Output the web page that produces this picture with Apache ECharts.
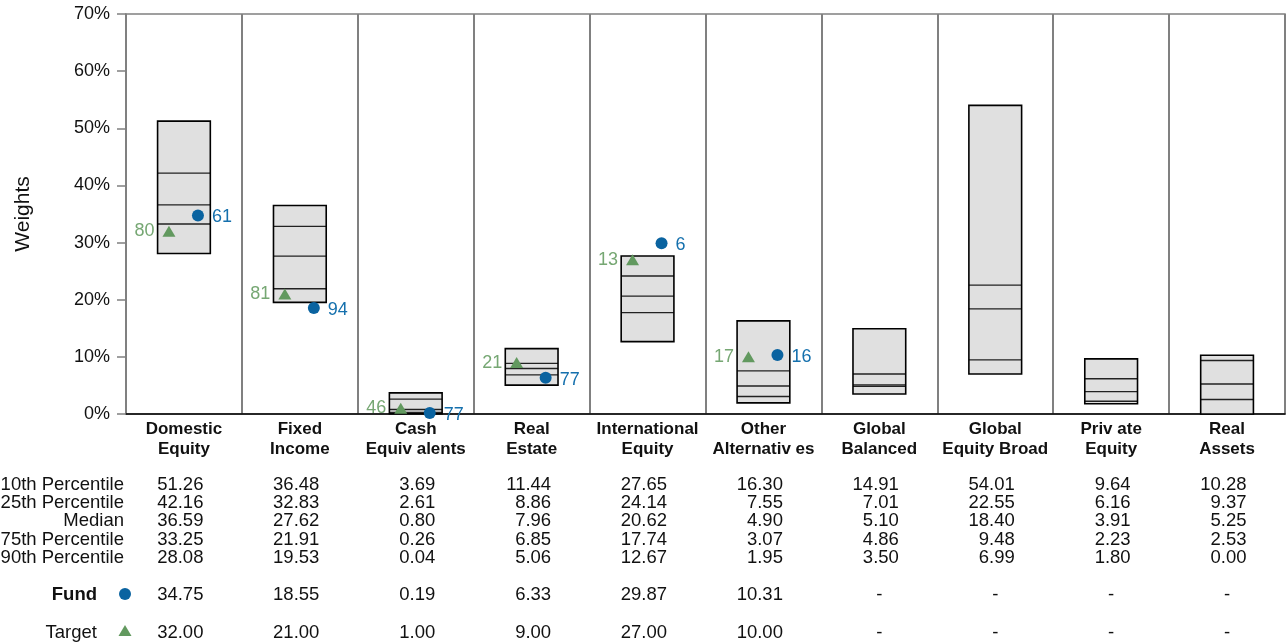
<!DOCTYPE html>
<html>
<head>
<meta charset="utf-8">
<script src="https://cdn.jsdelivr.net/npm/echarts@6/dist/echarts.min.js"></script>
<style>
  html, body { margin: 0; padding: 0; background: #fff; }
  #chart { width: 1286px; height: 644px; }
</style>
</head>
<body>
<div id="chart"></div>
<script>
// Asset class categories (two-line axis labels)
const categories = [
  'Domestic\nEquity', 'Fixed\nIncome', 'Cash\nEquiv alents', 'Real\nEstate',
  'International\nEquity', 'Other\nAlternativ es', 'Global\nBalanced',
  'Global\nEquity Broad', 'Priv ate\nEquity', 'Real\nAssets'
];

// Universe percentile weights (%)
const p10    = [51.26, 36.48, 3.69, 11.44, 27.65, 16.30, 14.91, 54.01, 9.64, 10.28];
const p25    = [42.16, 32.83, 2.61,  8.86, 24.14,  7.55,  7.01, 22.55, 6.16,  9.37];
const median = [36.59, 27.62, 0.80,  7.96, 20.62,  4.90,  5.10, 18.40, 3.91,  5.25];
const p75    = [33.25, 21.91, 0.26,  6.85, 17.74,  3.07,  4.86,  9.48, 2.23,  2.53];
const p90    = [28.08, 19.53, 0.04,  5.06, 12.67,  1.95,  3.50,  6.99, 1.80,  0.00];

// Fund and target weights (%) with their percentile ranks
const fund       = [34.75, 18.55, 0.19, 6.33, 29.87, 10.31, null, null, null, null];
const fundRank   = [61, 94, 77, 77, 6, 16, null, null, null, null];
const target     = [32.00, 21.00, 1.00, 9.00, 27.00, 10.00, null, null, null, null];
const targetRank = [80, 81, 46, 21, 13, 17, null, null, null, null];

// Y axis ticks
const yMin = 0, yMax = 70, yStep = 10;

// Table row labels
const rowLabels = ['10th Percentile', '25th Percentile', 'Median', '75th Percentile', '90th Percentile'];

const FONT = 'Liberation Sans, Arial, Helvetica, sans-serif';
const BLUE = '#0a63a0', BLUE_TXT = '#1570ad';
const GREEN = '#62995f', GREEN_TXT = '#76a773';

const boxData = categories.map((c, i) => [i, p10[i], p25[i], median[i], p75[i], p90[i]]);
const fundData = fund.map((v, i) => v == null ? null : [i, v, fundRank[i]]).filter(Boolean);
const targetData = target.map((v, i) => v == null ? null : [i, v, targetRank[i]]).filter(Boolean);

const chart = echarts.init(document.getElementById('chart'), null, { renderer: 'canvas' });

chart.setOption({
  animation: false,
  textStyle: { fontFamily: FONT },
  grid: {
    left: 126, right: 1, top: 14, bottom: 230,
    show: true, borderColor: '#808080', borderWidth: 1.5, backgroundColor: 'transparent'
  },
  xAxis: {
    type: 'category',
    data: categories,
    boundaryGap: true,
    axisLine: { show: true, lineStyle: { color: '#000', width: 1.5 } },
    axisTick: { show: false },
    axisLabel: {
      interval: 0, margin: 6, color: '#111', fontFamily: FONT,
      fontWeight: 'bold', fontSize: 17, lineHeight: 19.5
    },
    splitLine: { show: true, interval: 0, lineStyle: { color: '#808080', width: 2 } }
  },
  yAxis: {
    type: 'value',
    min: yMin, max: yMax, interval: yStep,
    name: 'Weights',
    nameLocation: 'middle',
    nameRotate: 90,
    nameGap: 92,
    nameTextStyle: { fontSize: 21, color: '#111', fontFamily: FONT },
    axisLine: { show: true, lineStyle: { color: '#808080', width: 1.5 } },
    axisTick: { show: true, length: 9, lineStyle: { color: '#808080', width: 1.5 } },
    axisLabel: { formatter: '{value}%', fontSize: 18, color: '#111', margin: 16, fontFamily: FONT },
    splitLine: { show: false }
  },
  series: [
    {
      type: 'custom',
      name: 'Universe',
      data: boxData,
      encode: { x: 0, y: [1, 2, 3, 4, 5] },
      z: 2,
      renderItem: function (params, api) {
        const i = api.value(0);
        const cx = api.coord([i, 0])[0];
        const w = api.size([1, 0])[0] * 0.455;
        const yTop = api.coord([i, api.value(1)])[1];
        const yBot = api.coord([i, api.value(5)])[1];
        const children = [{
          type: 'rect',
          shape: { x: cx - w / 2, y: yTop, width: w, height: yBot - yTop },
          style: { fill: '#e0e0e0', stroke: null }
        }];
        [2, 3, 4].forEach(function (k) {
          const y = api.coord([i, api.value(k)])[1];
          children.push({
            type: 'line',
            shape: { x1: cx - w / 2, y1: y, x2: cx + w / 2, y2: y },
            style: { stroke: '#222', lineWidth: 1.4 }
          });
        });
        children.push({
          type: 'rect',
          shape: { x: cx - w / 2, y: yTop, width: w, height: yBot - yTop },
          style: { fill: null, stroke: '#000', lineWidth: 1.6 }
        });
        return { type: 'group', children: children };
      }
    },
    {
      type: 'scatter',
      name: 'Fund',
      data: fundData,
      symbol: 'circle',
      symbolSize: 12,
      symbolOffset: [14, 0],
      itemStyle: { color: BLUE, opacity: 1 },
      z: 5,
      label: {
        show: true, position: 'right', distance: 8,
        color: BLUE_TXT, fontSize: 18, fontFamily: FONT,
        offset: [0, 2],
        formatter: function (p) { return p.value[2]; }
      }
    },
    {
      type: 'scatter',
      name: 'Target',
      data: targetData,
      symbol: 'triangle',
      symbolSize: [13, 11],
      symbolOffset: [-15, 0],
      itemStyle: { color: GREEN, opacity: 1 },
      z: 5,
      label: {
        show: true, position: 'left', distance: 8,
        color: GREEN_TXT, fontSize: 18, fontFamily: FONT,
        formatter: function (p) { return p.value[2]; }
      }
    }
  ]
});

// Summary table under the plot, aligned to the category positions
(function buildTable() {
  const gridLeft = 126;
  const rowY = [485, 503, 521, 540, 558];
  const fundY = 595, targetY = 633;
  const elems = [];
  const txt = function (text, x, y, align, bold) {
    elems.push({
      type: 'text', silent: true,
      style: {
        text: text, x: x, y: y, align: align, verticalAlign: 'middle',
        fill: '#111', fontSize: 18.5, fontFamily: FONT, fontWeight: bold ? 'bold' : 'normal'
      }
    });
  };
  const rows = [p10, p25, median, p75, p90];
  rowLabels.forEach(function (lab, r) { txt(lab, gridLeft - 2, rowY[r], 'right'); });
  txt('Fund', 97, fundY, 'right', true);
  txt('Target', 97, targetY, 'right');
  elems.push({ type: 'circle', silent: true, shape: { cx: gridLeft - 1, cy: fundY - 1, r: 6 }, style: { fill: BLUE } });
  elems.push({
    type: 'polygon', silent: true,
    shape: { points: [[gridLeft - 1, targetY - 8], [gridLeft - 7.5, targetY + 3], [gridLeft + 5.5, targetY + 3]] },
    style: { fill: GREEN }
  });
  categories.forEach(function (c, i) {
    const cx = chart.convertToPixel({ xAxisIndex: 0 }, i);
    rows.forEach(function (arr, r) { txt(arr[i].toFixed(2), cx + 19.5, rowY[r], 'right'); });
    if (fund[i] == null) txt('-', cx, fundY, 'center'); else txt(fund[i].toFixed(2), cx + 19.5, fundY, 'right');
    if (target[i] == null) txt('-', cx, targetY, 'center'); else txt(target[i].toFixed(2), cx + 19.5, targetY, 'right');
  });
  chart.setOption({ graphic: { elements: elems } });
})();
</script>
</body>
</html>
